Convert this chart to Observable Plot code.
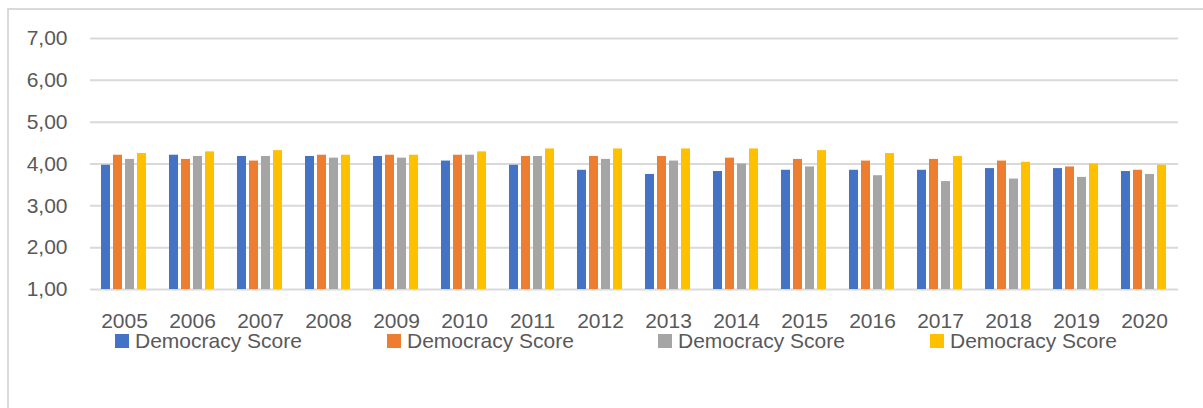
<!DOCTYPE html>
<html>
<head>
<meta charset="utf-8">
<script src="https://cdn.jsdelivr.net/npm/d3@7"></script>
<script src="https://cdn.jsdelivr.net/npm/@observablehq/plot@0.6"></script>
<style>
  html, body { margin: 0; padding: 0; background: #fff; }
  #wrap { position: relative; width: 1203px; height: 408px; overflow: hidden; font-family: "Liberation Sans", Arial, sans-serif; }
  #border { position: absolute; left: 7px; top: 8px; width: 1300px; height: 500px; border: 2px solid #d9d9d9; box-sizing: border-box; }
  #chart { position: absolute; left: 0; top: 0; }
  .item { position: absolute; top: 329px; display: flex; align-items: center; height: 24px; line-height: 24px; font-size: 21px; color: #595959; white-space: nowrap; }
  .sw { width: 14px; height: 14px; margin-right: 6px; display: inline-block; }
</style>
</head>
<body>
<div id="wrap">
  <div id="border"></div>
  <div id="chart"></div>
  <div id="legend"></div>
</div>
<script>
const years = ["2005","2006","2007","2008","2009","2010","2011","2012","2013","2014","2015","2016","2017","2018","2019","2020"];
const seriesKeys = ["s1","s2","s3","s4"];
const seriesLabels = ["Democracy Score","Democracy Score","Democracy Score","Democracy Score"];
const seriesColors = ["#4472C4","#ED7D31","#A5A5A5","#FFC000"];
const s1 = [3.97,4.21,4.18,4.18,4.18,4.07,3.97,3.85,3.75,3.82,3.85,3.85,3.85,3.89,3.89,3.82];
const s2 = [4.21,4.11,4.07,4.21,4.21,4.21,4.18,4.18,4.18,4.14,4.11,4.07,4.11,4.07,3.93,3.85];
const s3 = [4.11,4.18,4.18,4.14,4.14,4.21,4.18,4.11,4.07,4.00,3.93,3.72,3.58,3.64,3.68,3.75];
const s4 = [4.25,4.29,4.32,4.21,4.21,4.29,4.36,4.36,4.36,4.36,4.32,4.25,4.18,4.04,4.00,3.97];
const yTicks = [1,2,3,4,5,6,7];

const seriesValues = [s1, s2, s3, s4];
const data = [];
years.forEach((yr, i) => {
  seriesKeys.forEach((k, j) => data.push({year: yr, series: k, value: seriesValues[j][i]}));
});

const chart = Plot.plot({
  width: 1203,
  height: 408,
  marginLeft: 89,
  marginRight: 24,
  marginTop: 38,
  marginBottom: 119,
  style: {fontFamily: "'Liberation Sans', Arial, sans-serif", fontSize: "21px", color: "#595959", background: "transparent"},
  fx: {domain: years, padding: 0, axis: "bottom", tickSize: 0, tickPadding: 24, label: null},
  x: {domain: seriesKeys, paddingInner: 0.23, paddingOuter: 0.86, axis: null},
  y: {domain: [1, 7], ticks: yTicks, tickFormat: d => d.toFixed(2).replace(".", ","), tickSize: 0, tickPadding: 23, label: null},
  color: {domain: seriesKeys, range: seriesColors},
  marks: [
    Plot.ruleY(yTicks, {stroke: "#d9d9d9", strokeWidth: 2}),
    Plot.barY(data, {fx: "year", x: "series", y1: 1, y2: "value", fill: "series"})
  ]
});
document.getElementById("chart").appendChild(chart);

const legendLeft = [115, 387, 658, 930];
const legend = document.getElementById("legend");
seriesKeys.forEach((k, i) => {
  const item = document.createElement("div");
  item.className = "item";
  item.style.left = legendLeft[i] + "px";
  const sw = document.createElement("span");
  sw.className = "sw";
  sw.style.background = seriesColors[i];
  item.appendChild(sw);
  item.appendChild(document.createTextNode(seriesLabels[i]));
  legend.appendChild(item);
});
</script>
</body>
</html>
